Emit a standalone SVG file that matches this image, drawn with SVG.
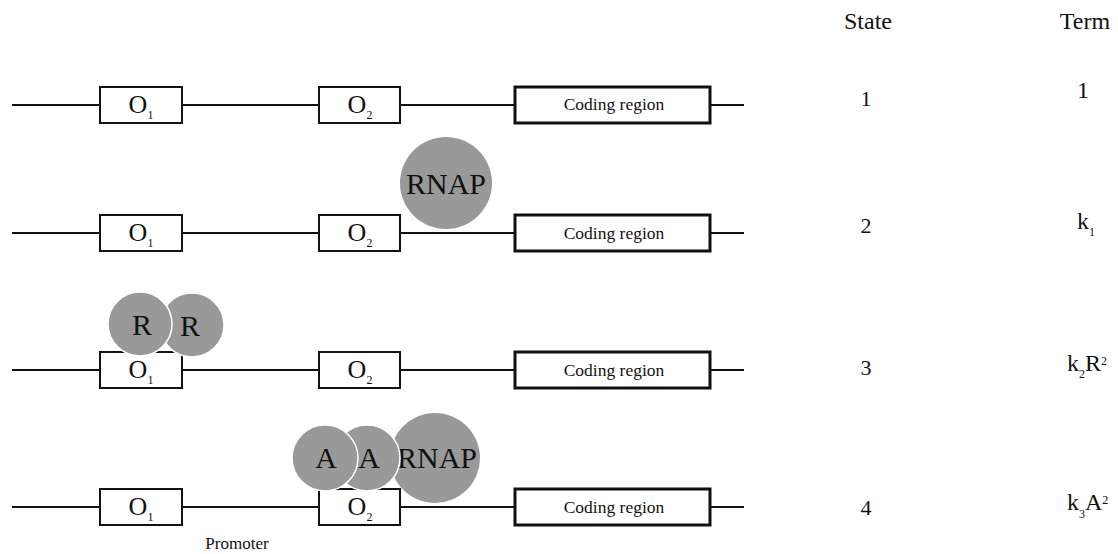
<svg xmlns="http://www.w3.org/2000/svg" width="1118" height="554" viewBox="0 0 1118 554">
<style>
  text { font-family: "Liberation Serif", "DejaVu Serif", serif; fill: #111; }
  .op { fill: #fff; stroke: #111; stroke-width: 2; }
  .cod { fill: #fff; stroke: #111; stroke-width: 3; }
  .dna { stroke: #111; stroke-width: 2; fill: none; }
  .prot { fill: #999; }
  .protw { fill: #999; stroke: #fff; stroke-width: 1.5; }
  .ol { font-size: 26px; text-anchor: middle; }
  .sub { font-size: 12px; }
  .cr { font-size: 17.5px; text-anchor: middle; }
  .pl { font-size: 30px; text-anchor: middle; }
  .hd { font-size: 24px; text-anchor: middle; }
  .st { font-size: 22px; text-anchor: middle; }
  .tm { font-size: 24px; }
  .ts { font-size: 12px; }
</style>

<g id="connectors">
  <line class="dna" x1="12" y1="105" x2="100" y2="105"/>
  <line class="dna" x1="182" y1="105" x2="319" y2="105"/>
  <line class="dna" x1="400" y1="105" x2="515" y2="105"/>
  <line class="dna" x1="710" y1="105" x2="744" y2="105"/>
  <line class="dna" x1="12" y1="233" x2="100" y2="233"/>
  <line class="dna" x1="182" y1="233" x2="319" y2="233"/>
  <line class="dna" x1="400" y1="233" x2="515" y2="233"/>
  <line class="dna" x1="710" y1="233" x2="744" y2="233"/>
  <line class="dna" x1="12" y1="370" x2="100" y2="370"/>
  <line class="dna" x1="182" y1="370" x2="319" y2="370"/>
  <line class="dna" x1="400" y1="370" x2="515" y2="370"/>
  <line class="dna" x1="710" y1="370" x2="744" y2="370"/>
  <line class="dna" x1="12" y1="507" x2="100" y2="507"/>
  <line class="dna" x1="182" y1="507" x2="319" y2="507"/>
  <line class="dna" x1="400" y1="507" x2="515" y2="507"/>
  <line class="dna" x1="710" y1="507" x2="744" y2="507"/>
</g>

<!-- Row 1 -->
<g id="r1-o1"><rect class="op" x="100" y="87" width="82" height="36"/><text class="ol" x="141" y="113">O<tspan class="sub" dy="6">1</tspan></text></g>
<g id="r1-o2"><rect class="op" x="319" y="87" width="81" height="36"/><text class="ol" x="360" y="113">O<tspan class="sub" dy="6">2</tspan></text></g>
<g id="r1-coding"><rect class="cod" x="515" y="87" width="195" height="36"/><text class="cr" x="614" y="110">Coding region</text></g>

<!-- Row 2 -->
<g id="r2-o1"><rect class="op" x="100" y="215" width="82" height="36"/><text class="ol" x="141" y="241">O<tspan class="sub" dy="6">1</tspan></text></g>
<g id="r2-o2"><rect class="op" x="319" y="215" width="81" height="36"/><text class="ol" x="360" y="241">O<tspan class="sub" dy="6">2</tspan></text></g>
<g id="r2-coding"><rect class="cod" x="515" y="215" width="195" height="36"/><text class="cr" x="614" y="239">Coding region</text></g>
<g id="r2-rnap"><circle class="prot" cx="446" cy="183" r="46"/><text class="pl" x="446" y="194">RNAP</text></g>

<!-- Row 3 -->
<g id="r3-o1"><rect class="op" x="100" y="352" width="82" height="36"/><text class="ol" x="141" y="378">O<tspan class="sub" dy="6">1</tspan></text></g>
<g id="r3-o2"><rect class="op" x="319" y="352" width="81" height="36"/><text class="ol" x="360" y="378">O<tspan class="sub" dy="6">2</tspan></text></g>
<g id="r3-coding"><rect class="cod" x="515" y="352" width="195" height="36"/><text class="cr" x="614" y="376">Coding region</text></g>
<g id="r3-r2"><circle class="protw" cx="192" cy="325" r="32"/><text class="pl" x="190" y="336">R</text></g>
<g id="r3-r1"><circle class="protw" cx="140" cy="324" r="32"/><text class="pl" x="142" y="335">R</text></g>

<!-- Row 4 -->
<g id="r4-o1"><rect class="op" x="100" y="489" width="82" height="36"/><text class="ol" x="141" y="515">O<tspan class="sub" dy="6">1</tspan></text></g>
<g id="r4-o2"><rect class="op" x="319" y="489" width="81" height="36"/><text class="ol" x="360" y="515">O<tspan class="sub" dy="6">2</tspan></text></g>
<g id="r4-coding"><rect class="cod" x="515" y="489" width="195" height="36"/><text class="cr" x="614" y="513">Coding region</text></g>
<g id="r4-rnap"><circle class="prot" cx="435" cy="458" r="45"/><text class="pl" x="437" y="468">RNAP</text></g>
<g id="r4-a2"><circle class="protw" cx="367" cy="458" r="33"/><text class="pl" x="369" y="468">A</text></g>
<g id="r4-a1"><circle class="protw" cx="325" cy="458" r="33"/><text class="pl" x="326" y="468">A</text></g>
<g id="promoter-label"><text x="237" y="549" style="font-size:17px;text-anchor:middle">Promoter</text></g>

<!-- Table -->
<g id="headers">
  <text class="hd" x="868" y="29">State</text>
  <text class="hd" x="1085" y="29">Term</text>
</g>
<g id="states">
  <text class="st" x="866" y="106">1</text>
  <text class="st" x="866" y="233">2</text>
  <text class="st" x="866" y="375">3</text>
  <text class="st" x="866" y="515">4</text>
</g>
<g id="terms">
  <text class="tm" x="1077" y="98">1</text>
  <text class="tm" x="1077" y="229">k<tspan class="ts" dy="7">1</tspan></text>
  <text class="tm" x="1067" y="371">k<tspan class="ts" dy="7">2</tspan><tspan dy="-7">R</tspan><tspan class="ts" dy="-6">2</tspan></text>
  <text class="tm" x="1067" y="510">k<tspan class="ts" dy="8">3</tspan><tspan dy="-8">A</tspan><tspan class="ts" dy="-6">2</tspan></text>
</g>
</svg>
